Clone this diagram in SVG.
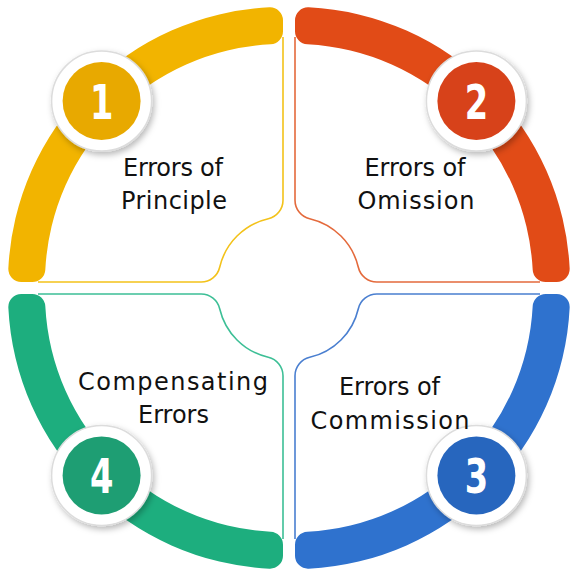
<svg xmlns="http://www.w3.org/2000/svg" width="573" height="569" viewBox="0 0 573 569">
<defs>
<style>
.outline{fill:none;stroke-width:1.6}
.ring{fill:#ffffff;stroke:#dcdcdc;stroke-width:1.5;filter:url(#sh)}
.label{font-family:"DejaVu Sans","Noto Sans",sans-serif;font-size:24px;fill:#111111;text-anchor:middle}
.num{font-family:"DejaVu Sans Condensed","DejaVu Sans",sans-serif;font-weight:bold;font-size:48px;fill:#ffffff;text-anchor:middle}
</style>
<filter id="sh" x="-30%" y="-30%" width="160%" height="160%">
<feDropShadow dx="2" dy="3" stdDeviation="3" flood-color="#000000" flood-opacity="0.28"/>
</filter>
<path id="band" d="M -13.645,-274.66 A275,275 0 0 0 -274.66,-13.645 A13,13 0 0 0 -261.68,0 L -250.66,0 A13,13 0 0 0 -237.68,-12.327 A238,238 0 0 1 -12.327,-237.68 A13,13 0 0 0 0,-250.66 L 0,-261.68 A13,13 0 0 0 -13.645,-274.66 Z"/>
<path id="edge" d="M0,-245 L0,-81.82 A19,19 0 0 1 -14.70,-63.32 A65,65 0 0 0 -63.32,-14.70 A19,19 0 0 1 -81.82,0 L-245,0"/>
</defs>

<g id="q1">
<use href="#edge" class="outline" stroke="#F3C21A" transform="translate(283,282)"/>
<use href="#band" fill="#F2B400" transform="translate(283,282)"/>
<circle class="ring" cx="101.6" cy="101" r="50"/>
<circle cx="101.6" cy="101" r="39" fill="#E8A900"/>
<text class="num" transform="translate(101.6,118.5) scale(0.78,1)">1</text>
<text class="label" x="173" y="176" textLength="100" lengthAdjust="spacing">Errors of</text>
<text class="label" x="174" y="209" textLength="106" lengthAdjust="spacing">Principle</text>
</g>

<g id="q2">
<use href="#edge" class="outline" stroke="#E46A3C" transform="translate(295,282) scale(-1,1)"/>
<use href="#band" fill="#E14B17" transform="translate(295,282) scale(-1,1)"/>
<circle class="ring" cx="476.4" cy="101" r="50"/>
<circle cx="476.4" cy="101" r="39" fill="#D7421A"/>
<text class="num" transform="translate(476.4,118.5) scale(0.78,1)">2</text>
<text class="label" x="415" y="176" textLength="101" lengthAdjust="spacing">Errors of</text>
<text class="label" x="416" y="209" textLength="117" lengthAdjust="spacing">Omission</text>
</g>

<g id="q3">
<use href="#edge" class="outline" stroke="#4A7FD0" transform="translate(295,294) scale(-1,-1)"/>
<use href="#band" fill="#2F72CE" transform="translate(295,294) scale(-1,-1)"/>
<circle class="ring" cx="476.4" cy="475.4" r="50"/>
<circle cx="476.4" cy="475.4" r="39" fill="#2766BE"/>
<text class="num" transform="translate(476.4,493) scale(0.78,1)">3</text>
<text class="label" x="389.5" y="395" textLength="101" lengthAdjust="spacing">Errors of</text>
<text class="label" x="390" y="429" textLength="159" lengthAdjust="spacing">Commission</text>
</g>

<g id="q4">
<use href="#edge" class="outline" stroke="#3DBF96" transform="translate(283,294) scale(1,-1)"/>
<use href="#band" fill="#1DAE7E" transform="translate(283,294) scale(1,-1)"/>
<circle class="ring" cx="101.6" cy="475.4" r="50"/>
<circle cx="101.6" cy="475.4" r="39" fill="#1E9E73"/>
<text class="num" transform="translate(101.6,493) scale(0.78,1)">4</text>
<text class="label" x="173" y="390" textLength="190" lengthAdjust="spacing">Compensating</text>
<text class="label" x="173.5" y="423" textLength="71" lengthAdjust="spacing">Errors</text>
</g>
</svg>
